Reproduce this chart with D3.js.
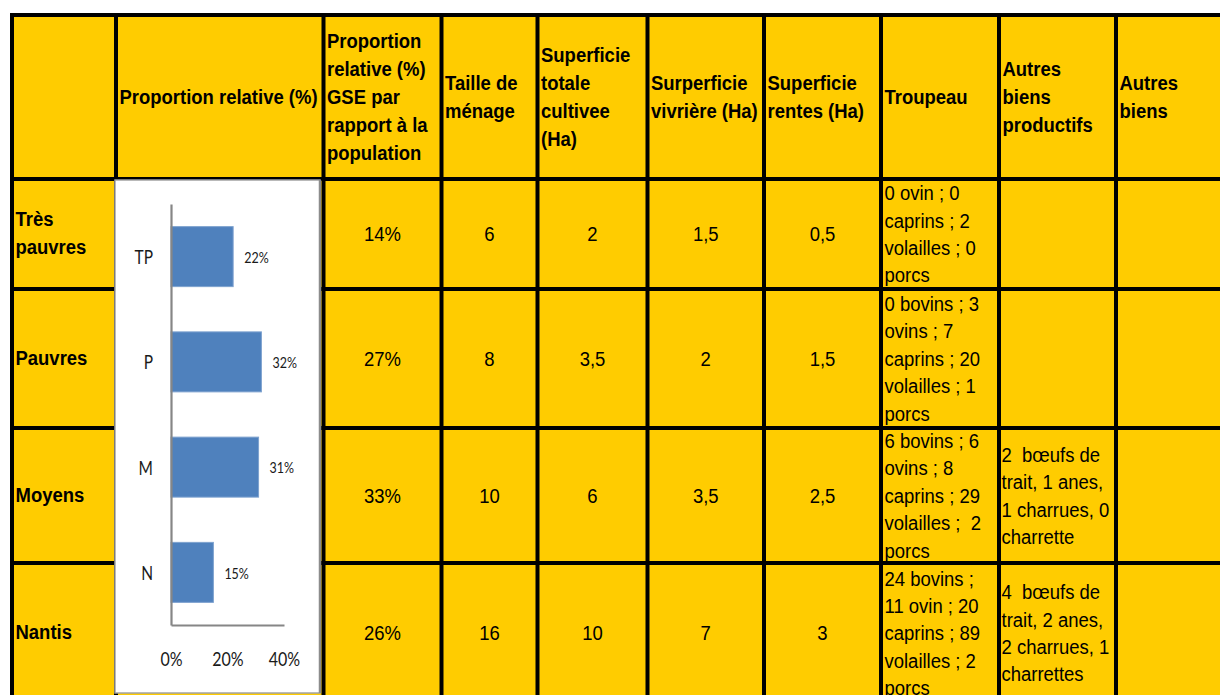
<!DOCTYPE html>
<html>
<head>
<meta charset="utf-8">
<script src="https://cdn.jsdelivr.net/npm/d3@7"></script>
<style>
  html, body { margin: 0; padding: 0; background: #fff; }
  svg { display: block; }
  text { white-space: pre; }
</style>
</head>
<body>
<div id="chart"></div>
<script>
// --- data ---
const headers = [
    [],
    ["Proportion relative (%)"],
    ["Proportion", "relative (%)", "GSE par", "rapport à la", "population"],
    ["Taille de", "ménage"],
    ["Superficie", "totale", "cultivee", "(Ha)"],
    ["Surperficie", "vivrière (Ha)"],
    ["Superficie", "rentes (Ha)"],
    ["Troupeau"],
    ["Autres", "biens", "productifs"],
    ["Autres", "biens"]
];
const groups = [["Très", "pauvres"], ["Pauvres"], ["Moyens"], ["Nantis"]];
const gse_pct = [14, 27, 33, 26];
const taille_menage = [6, 8, 10, 16];
const sup_totale = [2, 3.5, 6, 10];
const sup_vivriere = [1.5, 2, 3.5, 7];
const sup_rentes = [0.5, 1.5, 2.5, 3];
const troupeau = [
    ["0 ovin ; 0", "caprins ; 2", "volailles ; 0", "porcs"],
    ["0 bovins ; 3", "ovins ; 7", "caprins ; 20", "volailles ; 1", "porcs"],
    ["6 bovins ; 6", "ovins ; 8", "caprins ; 29", "volailles ;  2", "porcs"],
    ["24 bovins ;", "11 ovin ; 20", "caprins ; 89", "volailles ; 2", "porcs"]
];
const autres_biens = [
    [],
    [],
    ["2  bœufs de", "trait, 1 anes,", "1 charrues, 0", "charrette"],
    ["4  bœufs de", "trait, 2 anes,", "2 charrues, 1", "charrettes"]
];
const chart_cats = ["TP", "P", "M", "N"];
const chart_values = [22, 32, 31, 15];
const x_ticks = [0, 20, 40];

// --- layout ---
const width = 1220, height = 695;
const col_edges = [12, 116, 323.5, 441.5, 537.5, 647.5, 764, 881, 999, 1116, 1240];
const row_edges = [15, 179, 289, 428, 563, 703];
const font = "'Liberation Sans', Arial, sans-serif";
const font_size = 21, squeeze = 0.88;
const head_lh = 28, body_lh = 27.4;

const fr = d3.formatLocale({decimal: ",", thousands: " ", grouping: [3], currency: ["", "€"]});
const fmt = fr.format("~g");

const svg = d3.select("#chart").append("svg")
    .attr("width", width)
    .attr("height", height);

svg.append("rect")
    .attr("x", col_edges[0]).attr("y", row_edges[0])
    .attr("width", width - col_edges[0]).attr("height", height - row_edges[0])
    .attr("fill", "#ffcc00");

const text_layer = svg.append("g");

function putLines(lines, x, cy, lh, anchor, bold) {
    lines.forEach((s, i) => {
        const y = cy + (i - (lines.length - 1) / 2) * lh;
        text_layer.append("text")
            .attr("transform", `translate(${x},${y}) scale(${squeeze},1)`)
            .attr("dy", "0.35em")
            .attr("text-anchor", anchor)
            .attr("font-family", font)
            .attr("font-size", font_size)
            .attr("font-weight", bold ? "bold" : "normal")
            .attr("fill", "#000")
            .text(s);
    });
}

const row_mid = i => (row_edges[i] + row_edges[i + 1]) / 2;
const col_mid = j => (col_edges[j] + col_edges[j + 1]) / 2;

// header row
headers.forEach((lines, j) => putLines(lines, col_edges[j] + 3.5, row_mid(0) - 0.5, head_lh, "start", true));

// body rows
groups.forEach((lines, i) => {
    const r = i + 1;
    putLines(lines, col_edges[0] + 3.5, row_mid(r) - 1, head_lh, "start", true);
    putLines([gse_pct[i] + "%"], col_mid(2), row_mid(r), body_lh, "middle", false);
    putLines([fmt(taille_menage[i])], col_mid(3), row_mid(r), body_lh, "middle", false);
    putLines([fmt(sup_totale[i])], col_mid(4), row_mid(r), body_lh, "middle", false);
    putLines([fmt(sup_vivriere[i])], col_mid(5), row_mid(r), body_lh, "middle", false);
    putLines([fmt(sup_rentes[i])], col_mid(6), row_mid(r), body_lh, "middle", false);
    putLines(troupeau[i], col_edges[7] + 3.5, row_mid(r), body_lh, "start", false);
    putLines(autres_biens[i], col_edges[8] + 2.5, row_mid(r), body_lh, "start", false);
});

// grid lines drawn over the text
const grid = svg.append("g").attr("stroke", "#000").attr("stroke-width", 4);
col_edges.forEach(x => grid.append("line")
    .attr("x1", x).attr("x2", x).attr("y1", row_edges[0] - 2).attr("y2", height));
row_edges.forEach(y => grid.append("line")
    .attr("x1", col_edges[0] - 2).attr("x2", width).attr("y1", y).attr("y2", y));

// --- embedded bar chart ---
const box = {x0: 115, x1: 320, y0: 180, y1: 693};
svg.append("rect")
    .attr("x", box.x0).attr("y", box.y0)
    .attr("width", box.x1 - box.x0).attr("height", box.y1 - box.y0)
    .attr("fill", "#fff")
    .attr("stroke", "#a3a3a3")
    .attr("stroke-width", 1.5);
svg.append("line")
    .attr("x1", box.x1).attr("x2", box.x1).attr("y1", box.y0).attr("y2", box.y1)
    .attr("stroke", "#8c8c8c").attr("stroke-width", 2.5);

const x = d3.scaleLinear().domain([0, 40]).range([171, 284]);
const y = d3.scaleBand().domain(chart_cats).range([204, 625])
    .paddingInner(0.43).paddingOuter(0.215);

const chart_font = "Lato, 'Open Sans', sans-serif";
const stretch = 1.2;

const plot = svg.append("g");

plot.selectAll("rect.bar")
    .data(chart_values)
    .enter()
    .append("rect")
    .attr("class", "bar")
    .attr("x", x(0))
    .attr("y", (d, i) => y(chart_cats[i]))
    .attr("width", d => x(d) - x(0))
    .attr("height", y.bandwidth())
    .attr("fill", "#4f81bd")
    .attr("stroke", "#7ea2cf")
    .attr("stroke-width", 1);

plot.selectAll("text.val")
    .data(chart_values)
    .enter()
    .append("text")
    .attr("class", "val")
    .attr("transform", (d, i) => `translate(${x(d) + 11},${y(chart_cats[i]) + y.bandwidth() / 2 + 1}) scale(1,${stretch})`)
    .attr("dy", "0.35em")
    .attr("font-family", chart_font)
    .attr("font-size", 12.5)
    .attr("fill", "#1a1a1a")
    .text(d => d + "%");

const y_axis = plot.append("g")
    .attr("transform", `translate(${x(0)},0)`)
    .call(d3.axisLeft(y).tickSize(0).tickSizeOuter(0));
y_axis.select(".domain").attr("stroke", "#868686").attr("stroke-width", 2.2);
y_axis.selectAll(".tick text")
    .attr("x", null).attr("y", null)
    .attr("transform", `translate(-18,1) scale(1,${stretch})`)
    .attr("dy", "0.35em")
    .attr("text-anchor", "end")
    .attr("font-family", chart_font)
    .attr("font-size", 15.5)
    .attr("fill", "#1a1a1a");

const x_axis = plot.append("g")
    .attr("transform", `translate(0,${y.range()[1]})`)
    .call(d3.axisBottom(x).tickValues(x_ticks).tickSize(0).tickSizeOuter(0).tickFormat(d => d + "%"));
x_axis.select(".domain").attr("stroke", "#868686").attr("stroke-width", 2.2);
x_axis.selectAll(".tick text")
    .attr("x", null).attr("y", null)
    .attr("transform", `translate(0,34) scale(1,${stretch})`)
    .attr("dy", "0.35em")
    .attr("text-anchor", "middle")
    .attr("font-family", chart_font)
    .attr("font-size", 16)
    .attr("fill", "#1a1a1a");
</script>
</body>
</html>
